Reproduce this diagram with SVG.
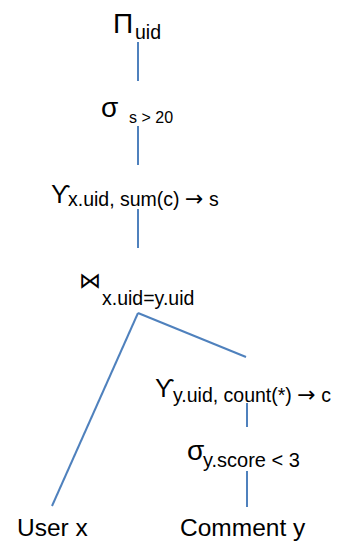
<svg xmlns="http://www.w3.org/2000/svg" width="338" height="545" viewBox="0 0 338 545">
<style>
.t{font-family:"Liberation Sans",Arial,"DejaVu Sans",sans-serif;fill:#000}
.op{font-size:28px}
.gm{font-size:25px}
.sub{font-size:19.5px}
.ar{font-family:"DejaVu Sans",sans-serif;font-size:22px}
.leaf{font-size:24.5px}
.e{stroke:#4f81bd;stroke-width:2;fill:none}
</style>
<rect width="338" height="545" fill="#fff"/>
<g id="connectors">
<line class="e" x1="138" y1="42" x2="138" y2="81"/>
<line class="e" x1="138" y1="126" x2="138" y2="165"/>
<line class="e" x1="138" y1="209" x2="138" y2="248"/>
<line class="e" x1="138" y1="313" x2="52" y2="506"/>
<line class="e" x1="138" y1="313" x2="246" y2="357"/>
<line class="e" x1="247" y1="403" x2="247" y2="427"/>
<line class="e" x1="247" y1="471" x2="247" y2="507"/>
</g>
<g id="project">
<text class="t op" x="113" y="33">Π</text>
<text class="t sub" x="135" y="39">uid</text>
</g>
<g id="select-s">
<text class="t op" x="101" y="117">σ</text>
<text class="t" font-size="16" x="129" y="123">s &gt; 20</text>
</g>
<g id="group-x">
<text class="t gm" x="51" y="203">ϒ</text>
<text class="t sub" x="68" y="206">x.uid, sum(c) <tspan class="ar">→</tspan> s</text>
</g>
<g id="join">
<text font-family="DejaVu Sans,sans-serif" font-size="22" x="79" y="288">⋈</text>
<text class="t sub" x="102" y="305">x.uid=y.uid</text>
</g>
<g id="group-y">
<text class="t gm" x="155" y="397">ϒ</text>
<text class="t sub" x="173" y="402">y.uid, count(*) <tspan class="ar">→</tspan> c</text>
</g>
<g id="select-y">
<text class="t op" x="187" y="460">σ</text>
<text class="t" font-size="20" x="203" y="467">y.score &lt; 3</text>
</g>
<g id="user">
<text class="t leaf" x="17" y="536">User x</text>
</g>
<g id="comment">
<text class="t leaf" x="180" y="536">Comment y</text>
</g>
</svg>
